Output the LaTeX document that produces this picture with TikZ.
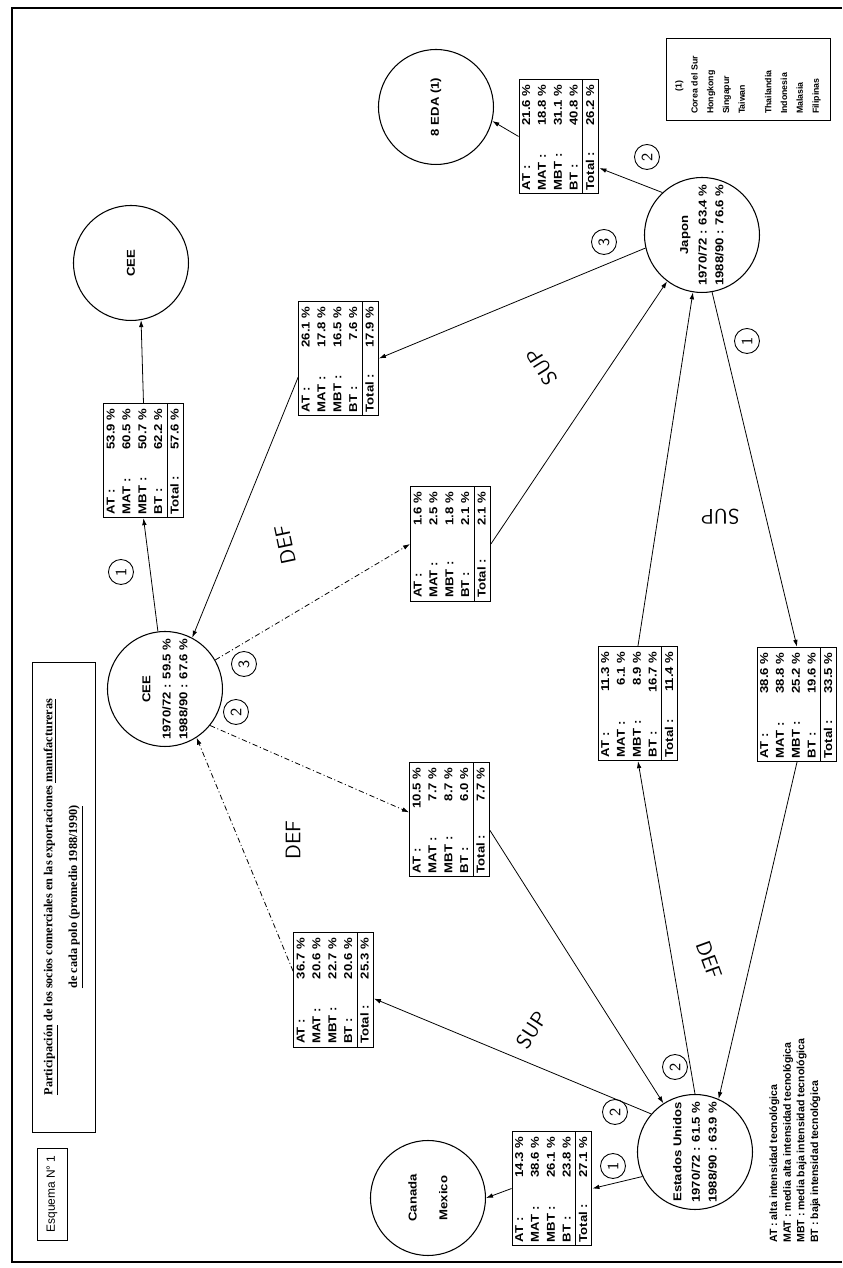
\documentclass[tikz,border=0pt]{standalone}
\usepackage{fontspec}
\usepackage{array}
\usetikzlibrary{arrows.meta}
\newfontfamily\helv{Liberation Sans}
\newfontfamily\helvw[FakeStretch=1.15]{Liberation Sans}
\newfontfamily\romana{Liberation Serif}
\newcommand{\cuota}[5]{%
  \begin{tabular*}{65pt}{@{\hspace{2pt}}l@{\extracolsep{\fill}}r@{\hspace{3pt}}}
  AT : & #1 \% \\
  MAT : & #2 \% \\
  MBT : & #3 \% \\
  BT : & #4 \% \\ \hline
  Total : & #5 \%
  \end{tabular*}}

\begin{document}
\begin{tikzpicture}[x=0.02cm, y=0.02cm, rotate=90, transform shape,
  polo/.style={circle, draw, line width=0.6pt, minimum size=2.3cm, inner sep=0pt, align=center,
    font=\helvw\bfseries\fontsize{6.5}{9.5}\selectfont},
  cuadro/.style={draw, line width=0.6pt, inner sep=0pt, font=\helvw\bfseries\fontsize{6.5}{9}\selectfont},
  flecha/.style={-{Latex[length=4pt,width=2.6pt]}, line width=0.45pt},
  trazo/.style={flecha, dash pattern=on 3pt off 1.5pt on 0.6pt off 1.5pt},
  marca/.style={circle, draw, line width=0.5pt, minimum size=0.5cm, inner sep=0pt, font=\sffamily\small},
  nota/.style={font=\sffamily\large}]

%
\useasboundingbox (0,0) -- (1268,0) -- (1268,842) -- (0,842) -- cycle;
\draw[line width=1pt] (6,0) -- (6,830) -- (1260,830) -- (1260,0);

%
\node[draw, line width=0.5pt, minimum width=9.4cm, minimum height=1.26cm, align=center,
  font=\romana\bfseries\fontsize{7}{14}\selectfont] (titulo) at (371,778.5)
  {\underline{Participación} de los socios comerciales en las exportaciones \underline{manufactureras}\\
   \underline{de cada polo (promedio 1988/1990)}};
\node[draw, line width=0.5pt, minimum width=1.84cm, minimum height=0.6cm,
  font=\helv\fontsize{6.8}{8}\selectfont] (esquema) at (74,790) {Esquema N° 1};

%
\node[draw, line width=0.5pt, minimum width=1.64cm, minimum height=3.28cm, text width=1.4cm, align=left,
  font=\helv\bfseries\fontsize{5}{9}\selectfont] (grupo) at (1189,94)
  {\hspace*{0.45cm}(1)\\ Corea del Sur\\ Hongkong\\ Singapur\\ Taiwan\\[6pt]
   Thailandia\\ Indonesia\\ Malasia\\ Filipinas};
\node[anchor=north west, inner sep=0pt, align=left, font=\helv\bfseries\fontsize{6}{7.8}\selectfont] (siglas) at (25,73)
  {AT : alta intensidad tecnológica\\ MAT : media alta intensidad tecnológica\\
   MBT : media baja intensidad tecnológica\\ BT : baja intensidad tecnológica};

%
\node[polo] (cee) at (579,677) {CEE\\[2pt]1970/72 : 59.5 \%\\1988/90 : 67.6 \%};
\node[polo] (ceesup) at (1005,711) {CEE};
\node[polo] (jp) at (1033,140) {Japon\\[1pt]1970/72 : 63.4 \%\\1988/90 : 76.6 \%};
\node[polo] (eda) at (1161,406) {8 EDA (1)};
\node[polo] (eu) at (116,147) {Estados Unidos\\[1pt]1970/72 : 61.5 \%\\1988/90 : 63.9 \%};
\node[polo] (cm) at (70,414) {Canada\\[8pt]Mexico};

%
\node[cuadro] (t1) at (807.5,698.5) {\cuota{53.9}{60.5}{50.7}{62.2}{57.6}};
\node[cuadro] (t2) at (909.5,503.5) {\cuota{26.1}{17.8}{16.5}{7.6}{17.9}};
\node[cuadro] (t3) at (724,391.5) {\cuota{1.6}{2.5}{1.8}{2.1}{2.1}};
\node[cuadro] (t4) at (1131.5,283) {\cuota{21.6}{18.8}{31.1}{40.8}{26.2}};
\node[cuadro] (t5) at (448.5,392.5) {\cuota{10.5}{7.7}{8.7}{6.0}{7.7}};
\node[cuadro] (t6) at (564.5,204) {\cuota{11.3}{6.1}{8.9}{16.7}{11.4}};
\node[cuadro] (t7) at (563.5,45) {\cuota{38.6}{38.8}{25.2}{19.6}{33.5}};
\node[cuadro] (t8) at (278,508.5) {\cuota{36.7}{20.6}{22.7}{20.6}{25.3}};
\node[cuadro] (t9) at (79.5,290) {\cuota{14.3}{38.6}{26.1}{23.8}{27.1}};

%
\draw[flecha] (cee.7) -- (t1.west);
\draw[flecha] (t1.east) -- (ceesup.190);
\draw[flecha] (jp.103) -- (t2.south);
\draw[flecha] (t2.115) -- (cee.-28);
\draw[trazo] (cee.-60) -- (t3.north);
\draw[flecha] (t3.south) -- (jp.143);
\draw[flecha] (jp.43) -- (t4.-128);
\draw[flecha] (t4.north) -- (eda.-104);
\draw[trazo] (cee.-129) -- (t5.80);
\draw[flecha] (t5.-105) -- (eu.33);
\draw[flecha] (eu.east) -- (t6.west);
\draw[flecha] (t6.east) -- (jp.171);
\draw[flecha] (jp.190) -- (t7.east);
\draw[flecha] (t7.west) -- (eu.-24);
\draw[flecha] (eu.49) -- (t8.-102);
\draw[trazo] (t8.65) -- (cee.-147);
\draw[flecha] (eu.115) -- (t9.south);
\draw[flecha] (t9.north) -- (cm.south);

%
\node[marca] (m1) at (1111,195) {2};
\node[marca] (m2) at (1026,238) {3};
\node[marca] (m3) at (927,95) {1};
\node[marca] (m4) at (696,721) {1};
\node[marca] (m5) at (604,598) {3};
\node[marca] (m6) at (556,606) {2};
\node[marca] (m7) at (201,167) {2};
\node[marca] (m8) at (156,227) {2};
\node[marca] (m9) at (102,229) {1};

%
\node[nota, rotate=32] (sup1) at (901,300) {SUP};
\node[nota, rotate=90] (sup2) at (751,122) {SUP};
\node[nota, rotate=-33] (sup3) at (238,310) {SUP};
\node[nota, rotate=12] (def1) at (723,557) {DEF};
\node[nota] (def2) at (428,549) {DEF};
\node[nota, rotate=200] (def3) at (308,133) {DEF};

\end{tikzpicture}
\end{document}
